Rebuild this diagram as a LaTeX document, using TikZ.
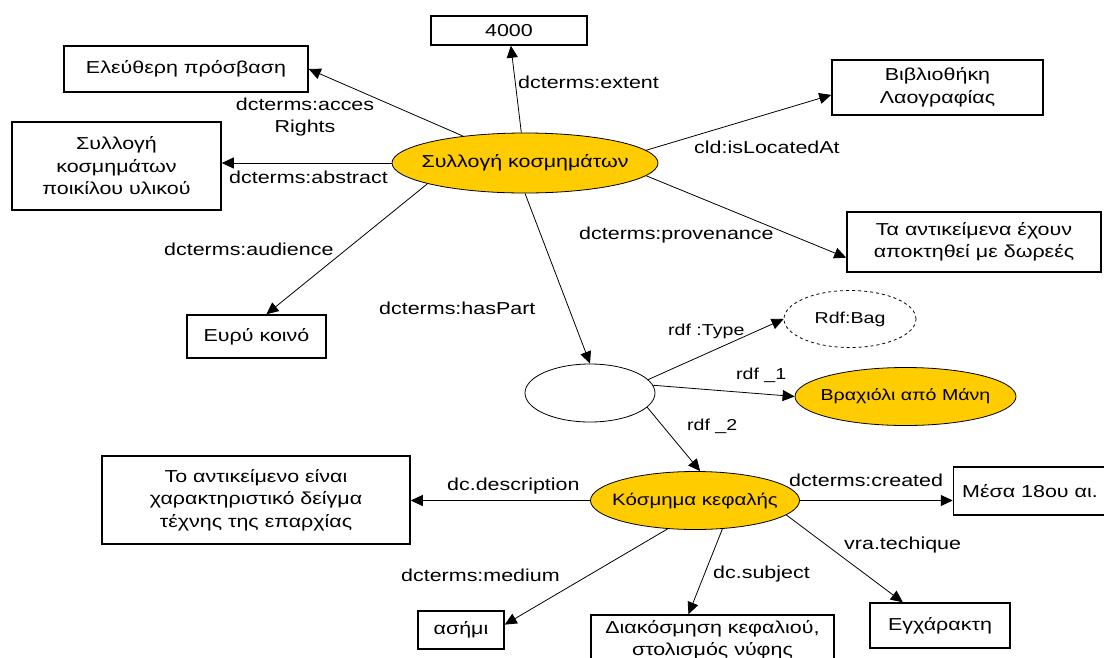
\documentclass[tikz,border=0pt]{standalone}
\usepackage{fontspec}
\setmainfont{Liberation Sans}[FakeStretch=1.24]
\usetikzlibrary{arrows.meta,shapes.geometric}
\definecolor{gold}{RGB}{255,204,0}
\begin{document}
\begin{tikzpicture}[x=1pt,y=-1pt,
  every node/.style={font=\fontsize{17.3}{22.5}\selectfont, inner sep=0pt},
  smallfont/.style={font=\fontsize{15.8}{19}\selectfont},
  box/.style={draw, line width=1.5pt, align=center},
  blob/.style={ellipse, draw, line width=0.8pt, fill=gold},
  hollow/.style={ellipse, draw, line width=0.8pt, fill=white},
  arr/.style={line width=0.8pt, -{Triangle[length=12pt,width=11pt]}},
  lbl/.style={anchor=base west}
]
\useasboundingbox (0,0) rectangle (1104,657);
\fill[white] (0,0) rectangle (1104,657);

% resources around the collection
\node[blob, minimum width=266pt, minimum height=60pt,
      label=center:{Συλλογή κοσμημάτων}] (main) at (525,163) {};
\node[box, minimum width=156pt, minimum height=29pt] (b4000) at (509,30.5) {4000};
\node[box, minimum width=244pt, minimum height=46pt] (bfree) at (186,69) {Ελεύθερη πρόσβαση};
\node[box, minimum width=209pt, minimum height=88pt] (babs) at (116.5,166)
  {Συλλογή\\κοσμημάτων\\ποικίλου υλικού};
\node[box, minimum width=211pt, minimum height=55pt] (blib) at (937.5,87.5)
  {Βιβλιοθήκη\\Λαογραφίας};
\node[box, minimum width=254pt, minimum height=60pt] (bprov) at (974,242)
  {Τα αντικείμενα έχουν\\αποκτηθεί με δωρεές};
\node[box, minimum width=139pt, minimum height=43pt] (bwide) at (256.5,336.5) {Ευρύ κοινό};

% the bag and its members
\node[hollow, minimum width=130pt, minimum height=58pt] (blank) at (590,393) {};
\node[ellipse, draw, dashed, line width=0.8pt, minimum width=132pt, minimum height=57pt,
      label={[smallfont]center:Rdf:Bag}] (bag) at (850,319) {};
\node[blob, minimum width=221pt, minimum height=58pt,
      label={[smallfont]center:Βραχιόλι από Μάνη}] (bracelet) at (905.5,396.5) {};
\node[blob, minimum width=209pt, minimum height=58pt,
      label={[font=\fontsize{16.5}{20}\selectfont]center:Κόσμημα κεφαλής}] (head) at (695,500.5) {};

% properties of the head ornament
\node[box, minimum width=308pt, minimum height=88pt] (bdesc) at (256,500)
  {Το αντικείμενο είναι\\χαρακτηριστικό δείγμα\\τέχνης της επαρχίας};
\node[box, minimum width=153pt, minimum height=48pt] (bdate) at (1030,491) {Μέσα 18ου αι.};
\node[box, minimum width=86pt, minimum height=38pt] (bsilver) at (461,630) {ασήμι};
\node[box, minimum width=243pt, minimum height=50pt] (bsubj) at (712.5,640)
  {Διακόσμηση κεφαλιού,\\στολισμός νύφης};
\node[box, minimum width=140pt, minimum height=45pt] (btech) at (940,625.5) {Εγχάρακτη};

% connectors
\draw[arr] (main) -- (b4000);
\draw[arr] (main) -- (bfree.east);
\draw[arr] (main.west) -- (main.west -| babs.east);
\draw[arr] (main.6) -- (blib.184);
\draw[arr] (main.-6) -- (bprov.187);
\draw[arr] (main.192) -- (bwide.66);
\draw[arr] (main.south) -- (blank.north);
\draw[arr] (blank.13) -- (bag.west);
\draw[arr] (blank.7) -- (bracelet.west);
\draw[arr] (blank.-14) -- (head.80);
\draw[arr] (head.west) -- (head.west -| bdesc.east);
\draw[arr] (head.east) -- (head.east -| bdate.west);
\draw[arr] (head.-9) -- (btech.148);
\draw[arr] (head.-46) -- (bsubj.133);
\draw[arr] (head.226) -- (bsilver.7);

% property labels
\node[align=center] (lacc) at (305,117) {dcterms:acces\\Rights};
\node[lbl] (lext) at (518,88) {dcterms:extent};
\node[lbl] (labs) at (229,183) {dcterms:abstract};
\node[lbl] (lloc) at (694,153) {cld:isLocatedAt};
\node[lbl] (lprov) at (579,239) {dcterms:provenance};
\node[lbl] (laud) at (164,255) {dcterms:audience};
\node[lbl] (lpart) at (379,314) {dcterms:hasPart};
\node[lbl, smallfont] (ltype) at (668,335) {rdf :Type};
\node[lbl, smallfont] (lone) at (736,379) {rdf \_1};
\node[lbl, smallfont] (ltwo) at (687,430) {rdf \_2};
\node[lbl] (ldesc) at (447,490) {dc.description};
\node[lbl] (lmed) at (401,581) {dcterms:medium};
\node[lbl] (lcre) at (789,486) {dcterms:created};
\node[lbl] (ltech) at (844,549) {vra.techique};
\node[lbl] (lsubj) at (713,578) {dc.subject};
\end{tikzpicture}
\end{document}
